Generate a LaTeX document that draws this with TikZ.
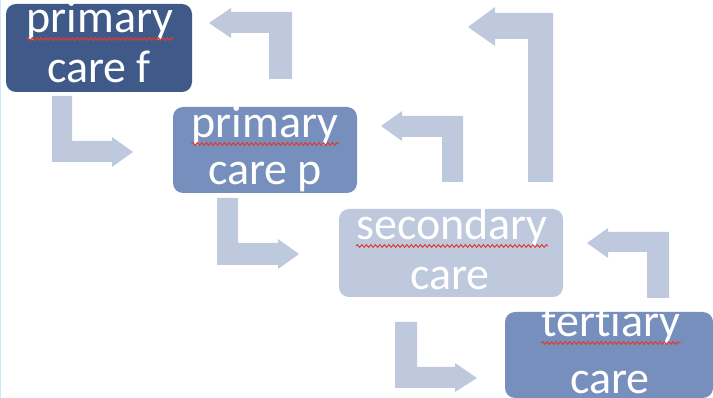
\documentclass[tikz,border=0pt]{standalone}
\usepackage{fontspec}
\setmainfont[Ligatures=NoCommon]{Carlito}
\usetikzlibrary{decorations.pathmorphing}
\definecolor{darkblue}{RGB}{63,90,137}
\definecolor{midblue}{RGB}{119,143,189}
\definecolor{paleblue}{RGB}{190,201,222}
\definecolor{edgeblue}{RGB}{205,232,246}
\definecolor{markred}{RGB}{222,60,50}

\begin{document}
\begin{tikzpicture}[x=1pt, y=-1pt,
  box/.style = {shape=rectangle, rounded corners=10pt, inner sep=0pt},
  lbl/.style = {inner sep=0pt, anchor=base, text=white,
    font=\fontsize{46}{50}\selectfont},
  turnarrow/.style = {fill=paleblue},
  squiggle/.style = {draw=markred, line width=1pt, decorate,
    decoration={snake, amplitude=1.4pt, segment length=4.5pt}}
  ]
  \useasboundingbox (0,0) rectangle (713,398);
  \draw[edgeblue, line width=1.2pt] (0.6,0) -- (0.6,398);

  % turning arrows
  \fill[turnarrow] (52,96) -- (72,96) -- (72,141) -- (112,141) -- (112,137)
    -- (133,152) -- (112,167) -- (112,162) -- (52,162) -- cycle;
  \fill[turnarrow] (217,198) -- (238,198) -- (238,243) -- (278,243) -- (278,239)
    -- (299,254) -- (278,269) -- (278,265) -- (217,265) -- cycle;
  \fill[turnarrow] (395,322) -- (417,322) -- (417,367) -- (455,367) -- (455,363)
    -- (477,378) -- (455,392) -- (455,388) -- (395,388) -- cycle;
  \fill[turnarrow] (209,23) -- (231,8) -- (231,12) -- (292,12) -- (292,79)
    -- (269,79) -- (269,33) -- (231,33) -- (231,38) -- cycle;
  \fill[turnarrow] (468,27) -- (495,7) -- (495,13) -- (553,13) -- (553,182)
    -- (528,182) -- (528,39) -- (495,39) -- (495,46) -- cycle;
  \fill[turnarrow] (381,126) -- (402,111) -- (402,116) -- (463,116) -- (463,182)
    -- (442,182) -- (442,137) -- (402,137) -- (402,141) -- cycle;
  \fill[turnarrow] (587,243) -- (608,228) -- (608,232) -- (669,232) -- (669,298)
    -- (647,298) -- (647,252) -- (608,252) -- (608,258) -- cycle;

  % boxes
  \node[box, fill=darkblue, minimum width=186pt, minimum height=88pt]
    (pcf) at (99,48) {};
  \node[box, fill=midblue, minimum width=184pt, minimum height=86pt]
    (pcp) at (265,150) {};
  \node[box, fill=paleblue, minimum width=224pt, minimum height=88pt]
    (sec) at (451,253) {};
  \node[box, fill=midblue, minimum width=208pt, minimum height=86pt]
    (ter) at (609,355) {};

  % labels
  \node[lbl] (pcf-1) at (100,33) {primary};
  \node[lbl] (pcf-2) at (99,83) {care f};
  \node[lbl] (pcp-1) at (265,138) {primary};
  \node[lbl] (pcp-2) at (265,185) {care p};
  \node[lbl] (sec-1) at (452,240) {secondary};
  \node[lbl] (sec-2) at (450,290) {care};
  \node[lbl] (ter-1) at (611,337) {tertiary};
  \node[lbl] (ter-2) at (610,393) {care};

  % spelling marks
  \foreach \w in {pcf-1, pcp-1, sec-1, ter-1}
    \draw[squiggle] ([yshift=-6pt]\w.base west) -- ([yshift=-6pt]\w.base east);
\end{tikzpicture}
\end{document}
